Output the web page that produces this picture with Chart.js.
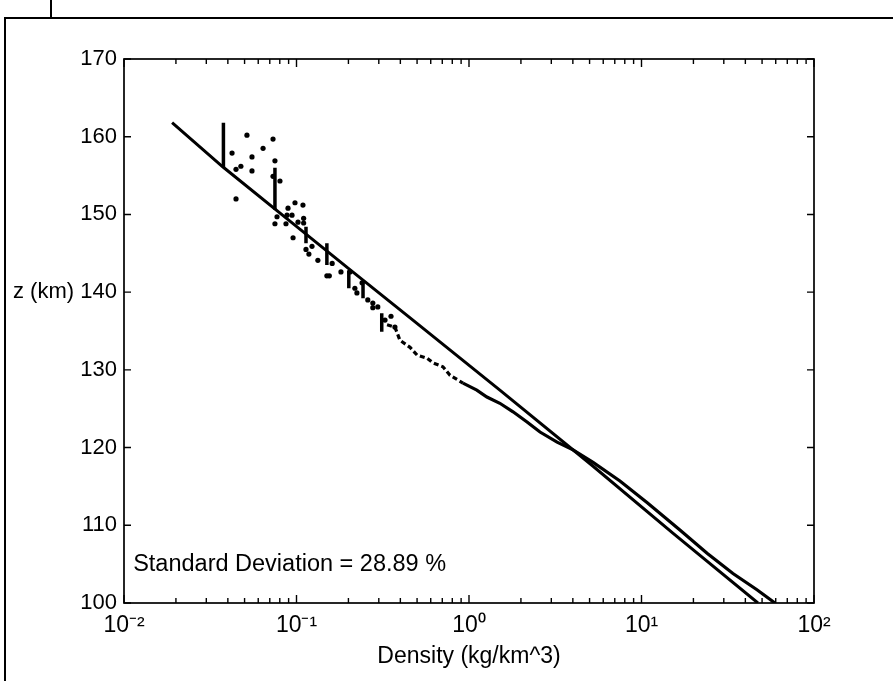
<!DOCTYPE html>
<html>
<head>
<meta charset="utf-8">
<script src="https://cdn.jsdelivr.net/npm/chart.js@4.4.0/dist/chart.umd.min.js"></script>
<style>
html,body{margin:0;padding:0;background:#fff;}
#wrap{width:893px;height:681px;position:relative;}
canvas{display:block;}
</style>
</head>
<body>
<div id="wrap"><canvas id="c" width="893" height="681"></canvas></div>
<script>
// ---- axis ticks ----
const xTickValues = [0.01, 0.1, 1, 10, 100];
const xTickLabels = ['10\u207B\u00B2', '10\u207B\u00B9', '10\u2070', '10\u00B9', '10\u00B2'];
const yTickValues = [100, 110, 120, 130, 140, 150, 160, 170];

// ---- model (straight exponential fit) ----
const modelRho = [0.0190, 0.0375, 0.102, 0.199, 0.473, 1.51, 5.24, 15.2, 47.3];
const modelZ   = [161.8, 156.1, 148.3, 143.1, 136.4, 127.4, 117.6, 109.0, 100.0];

// ---- measured: dense lower part ----
const denseRho = [0.923, 1.11, 1.27, 1.51, 1.80, 2.17, 2.58, 3.24, 4.01, 5.24, 7.50, 10.8, 16.7, 24.0, 33.9, 46.7, 59.4];
const denseZ   = [128.3, 127.4, 126.5, 125.7, 124.6, 123.3, 122.0, 120.7, 119.7, 118.1, 115.7, 112.9, 109.4, 106.4, 103.8, 101.7, 100.0];

// ---- measured: broken (dotted) middle part ----
const brokenRho = [0.335, 0.372, 0.398, 0.455, 0.500, 0.571, 0.618, 0.706, 0.776, 0.923];
const brokenZ   = [135.8, 135.5, 133.8, 132.9, 131.9, 131.5, 130.9, 130.4, 129.3, 128.3];

// ---- measured: vertical streaks ----
const streakRho    = [0.0377, 0.0750, 0.1135, 0.150, 0.201, 0.243, 0.312];
const streakTopZ   = [161.8, 156.0, 148.4, 146.3, 142.8, 141.2, 137.3];
const streakBotZ   = [156.1, 150.6, 146.3, 143.5, 140.5, 139.2, 134.9];

// ---- measured: scattered points ----
const scatterRho = [0.0516, 0.0731, 0.0640, 0.0423, 0.0552, 0.0476, 0.0446, 0.0552, 0.0446, 0.0750,
                    0.0802, 0.0731, 0.0893, 0.0980, 0.0881, 0.0750, 0.0869, 0.0942, 0.0771, 0.109,
                    0.102, 0.110, 0.110, 0.0955, 0.123, 0.1135, 0.118, 0.133, 0.161, 0.150,
                    0.155, 0.181, 0.204, 0.218, 0.224, 0.240, 0.259, 0.277, 0.277, 0.296,
                    0.326, 0.353, 0.372];
const scatterZ   = [160.2, 159.7, 158.5, 157.9, 157.4, 156.2, 155.8, 155.6, 152.0, 156.9,
                    154.3, 154.9, 150.8, 151.5, 149.9, 148.8, 148.8, 149.9, 149.7, 151.2,
                    149.0, 149.5, 148.9, 147.0, 145.9, 145.5, 144.9, 144.1, 143.7, 142.1,
                    142.1, 142.6, 142.6, 140.5, 139.9, 141.2, 139.0, 138.6, 138.0, 138.1,
                    136.4, 136.9, 135.5];

// ---- texts ----
const xTitle = 'Density (kg/km^3)';
const yTitle = 'z (km)';
const annotationText = 'Standard Deviation = 28.89 %';
const annotationRho = 0.0113;
const annotationZ = 104.9;

const FONT = '"Liberation Sans", Arial, Helvetica, sans-serif';

const pts = (xs, ys) => xs.map((v, i) => ({x: v, y: ys[i]}));
const streakData = [];
streakRho.forEach((r, i) => {
  streakData.push({x: r, y: streakTopZ[i]});
  streakData.push({x: r, y: streakBotZ[i]});
  streakData.push({x: r, y: null});
});

const decorPlugin = {
  id: 'decor',
  beforeDraw(chart) {
    const ctx = chart.ctx;
    ctx.save();
    ctx.fillStyle = '#fff';
    ctx.fillRect(0, 0, chart.width, chart.height);
    ctx.strokeStyle = '#000';
    ctx.lineWidth = 2;
    ctx.beginPath();
    ctx.moveTo(5, 681); ctx.lineTo(5, 18); ctx.lineTo(893, 18);
    ctx.moveTo(51, 0); ctx.lineTo(51, 18);
    ctx.stroke();
    ctx.restore();
  },
  afterDraw(chart) {
    const ctx = chart.ctx;
    const a = chart.chartArea;
    const xs = chart.scales.x, ys = chart.scales.y;
    ctx.save();
    ctx.strokeStyle = '#000';
    ctx.lineWidth = 1.7;
    ctx.strokeRect(a.left, a.top, a.right - a.left, a.bottom - a.top);
    ctx.lineWidth = 1.4;
    ctx.beginPath();
    yTickValues.forEach(v => {
      const py = ys.getPixelForValue(v);
      ctx.moveTo(a.left, py); ctx.lineTo(a.left + 7, py);
      ctx.moveTo(a.right, py); ctx.lineTo(a.right - 7, py);
    });
    xTickValues.forEach((d, i) => {
      const px = xs.getPixelForValue(d);
      ctx.moveTo(px, a.bottom); ctx.lineTo(px, a.bottom - 8);
      ctx.moveTo(px, a.top); ctx.lineTo(px, a.top + 8);
      if (i < xTickValues.length - 1) {
        for (let k = 2; k <= 9; k++) {
          const pm = xs.getPixelForValue(k * d);
          ctx.moveTo(pm, a.bottom); ctx.lineTo(pm, a.bottom - 5);
          ctx.moveTo(pm, a.top); ctx.lineTo(pm, a.top + 5);
        }
      }
    });
    ctx.stroke();
    ctx.fillStyle = '#000';
    ctx.textBaseline = 'middle';
    ctx.textAlign = 'left';
    ctx.font = '23.5px ' + FONT;
    ctx.fillText(annotationText, xs.getPixelForValue(annotationRho), ys.getPixelForValue(annotationZ));
    ctx.font = '22px ' + FONT;
    ctx.fillText(yTitle, 13, ys.getPixelForValue(140));
    ctx.restore();
  }
};

Chart.defaults.font.family = FONT;
Chart.defaults.color = '#000';

new Chart(document.getElementById('c'), {
  type: 'scatter',
  data: {
    datasets: [
      {label: 'model', data: pts(modelRho, modelZ), showLine: true, borderColor: '#000', borderWidth: 3, pointRadius: 0, tension: 0},
      {label: 'measured dense', data: pts(denseRho, denseZ), showLine: true, borderColor: '#000', borderWidth: 3.2, pointRadius: 0, tension: 0},
      {label: 'measured broken', data: pts(brokenRho, brokenZ), showLine: true, borderColor: '#000', borderWidth: 3.2, borderDash: [5, 3], pointRadius: 0, tension: 0},
      {label: 'streaks', data: streakData, showLine: true, spanGaps: false, borderColor: '#000', borderWidth: 3.5, pointRadius: 0},
      {label: 'measured points', data: pts(scatterRho, scatterZ), showLine: false, pointRadius: 2.6, pointBorderWidth: 0, pointBackgroundColor: '#000', pointBorderColor: '#000'}
    ]
  },
  options: {
    responsive: false,
    devicePixelRatio: 1,
    animation: false,
    layout: {padding: {left: 0, right: 79, top: 59, bottom: 0}},
    plugins: {legend: {display: false}, tooltip: {enabled: false}},
    scales: {
      x: {
        type: 'logarithmic',
        position: 'bottom',
        min: 0.01, max: 100,
        afterBuildTicks: s => { s.ticks = xTickValues.map(v => ({value: v})); },
        afterFit: s => { s.height = 78; },
        ticks: {
          autoSkip: false, maxRotation: 0, padding: 9,
          font: {size: 23}, color: '#000',
          callback: (v, i) => xTickLabels[i]
        },
        grid: {display: false, drawTicks: false},
        border: {display: false},
        title: {display: true, text: xTitle, font: {size: 23}, color: '#000', padding: {top: 0, bottom: 11}}
      },
      y: {
        type: 'linear',
        min: 100, max: 170,
        afterBuildTicks: s => { s.ticks = yTickValues.map(v => ({value: v})); },
        afterFit: s => { s.width = 124; },
        ticks: {padding: 7, font: {size: 22}, color: '#000', callback: v => String(v)},
        grid: {display: false, drawTicks: false},
        border: {display: false}
      }
    }
  },
  plugins: [decorPlugin]
});
</script>
</body>
</html>
